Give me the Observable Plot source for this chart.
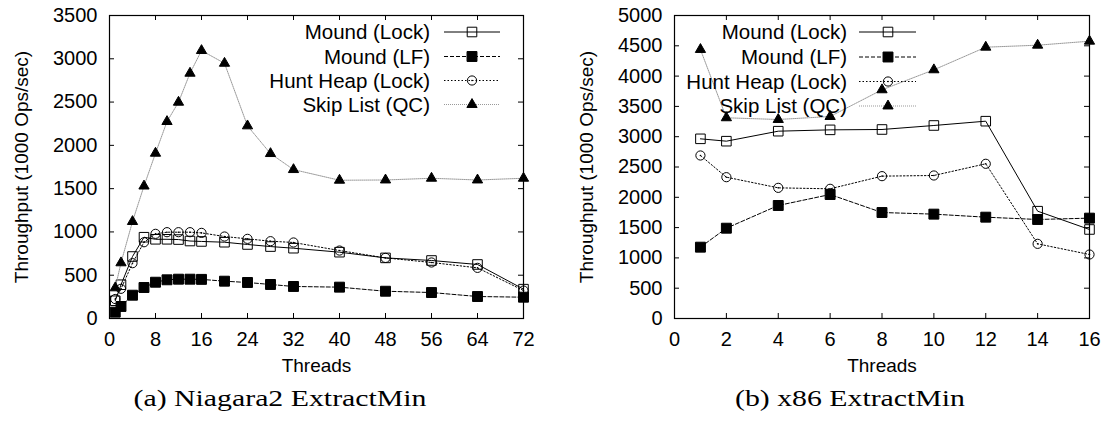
<!DOCTYPE html>
<html><head><meta charset="utf-8">
<script src="https://cdn.jsdelivr.net/npm/d3@7"></script>
<script src="https://cdn.jsdelivr.net/npm/@observablehq/plot@0.6"></script>
<style>
body{margin:0;background:#fff;}
#root{position:relative;width:1104px;height:428px;overflow:hidden;background:#fff;}
.chart{position:absolute;top:0;}
.overlay{position:absolute;left:0;top:0;pointer-events:none;}
</style></head><body><div id="root"></div>
<script>
// ---- data ----
const seriesNames = ["Mound (Lock)", "Mound (LF)", "Hunt Heap (Lock)", "Skip List (QC)"];

const niagaraThreads = [1, 2, 4, 6, 8, 10, 12, 14, 16, 20, 24, 28, 32, 40, 48, 56, 64, 72];
const niagaraMoundLock = [205, 390, 716, 939, 915, 915, 912, 895, 890, 881, 855, 831, 812, 766, 700, 670, 624, 339];
const niagaraMoundLF = [73, 139, 269, 358, 419, 447, 454, 454, 452, 431, 416, 393, 370, 362, 315, 300, 254, 246];
const niagaraHuntHeap = [225, 343, 639, 881, 978, 997, 997, 997, 989, 947, 920, 893, 878, 785, 700, 647, 585, 323];
const niagaraSkipList = [354, 643, 1120, 1530, 1909, 2275, 2498, 2833, 3095, 2948, 2225, 1905, 1720, 1597, 1600, 1620, 1600, 1620];
const niagaraXTicks = [0, 8, 16, 24, 32, 40, 48, 56, 64, 72];
const niagaraYTicks = [0, 500, 1000, 1500, 2000, 2500, 3000, 3500];

const x86Threads = [1, 2, 4, 6, 8, 10, 12, 14, 16];
const x86MoundLock = [2965, 2926, 3091, 3113, 3119, 3185, 3256, 1771, 1469];
const x86MoundLF = [1177, 1490, 1865, 2046, 1749, 1722, 1672, 1634, 1656];
const x86HuntHeap = [2690, 2332, 2156, 2140, 2349, 2360, 2553, 1232, 1056];
const x86SkipList = [4439, 3312, 3284, 3333, 3774, 4104, 4477, 4510, 4576];
const x86XTicks = [0, 2, 4, 6, 8, 10, 12, 14, 16];
const x86YTicks = [0, 500, 1000, 1500, 2000, 2500, 3000, 3500, 4000, 4500, 5000];

const xLabel = "Threads";
const yLabel = "Throughput (1000 Ops/sec)";
const captions = ["(a) Niagara2 ExtractMin", "(b) x86 ExtractMin"];

// ---- styles ----
const styles = [
  {stroke: "#000", dash: null, width: 1, symbol: "square", r: 5.4, fill: "none", dot: false},
  {stroke: "#000", dash: "4,2", width: 1, symbol: "square", r: 5.6, fill: "#000", dot: false},
  {stroke: "#000", dash: "1.5,2", width: 1, symbol: "circle", r: 4.6, fill: "none", dot: true},
  {stroke: "#999", dash: "1,1", width: 1, symbol: "triangle", r: 3.8, fill: "#000", dot: false}
];
const FONT = '"Liberation Sans", Arial, Helvetica, sans-serif';
const TICK_FS = 20;
const LABEL_FS = 19;
const H = 380, MT = 15, MB = 62, TICK = 5;

const root = document.getElementById("root");

function makeChart(cfg) {
  const plotW = cfg.width - cfg.marginLeft - cfg.marginRight;
  const plotH = H - MT - MB;
  const rows = [];
  cfg.series.forEach((vals, i) => vals.forEach((v, j) => rows.push({s: i, x: cfg.threads[j], y: v})));
  const marks = [];
  // inward ticks on all four sides
  marks.push(
    Plot.tickX(cfg.xTicks, {x: d => d, insetTop: plotH - TICK, stroke: "#000"}),
    Plot.tickX(cfg.xTicks, {x: d => d, insetBottom: plotH - TICK, stroke: "#000"}),
    Plot.tickY(cfg.yTicks, {y: d => d, insetRight: plotW - TICK, stroke: "#000"}),
    Plot.tickY(cfg.yTicks, {y: d => d, insetLeft: plotW - TICK, stroke: "#000"})
  );
  styles.forEach((st, i) => {
    const d = rows.filter(r => r.s === i);
    marks.push(Plot.line(d, {x: "x", y: "y", stroke: st.stroke, strokeWidth: st.width, strokeDasharray: st.dash}));
    marks.push(Plot.dot(d, {x: "x", y: "y", symbol: () => st.symbol, r: st.r, fill: st.fill, stroke: "#000", strokeWidth: 1}));
    if (st.dot) marks.push(Plot.dot(d, {x: "x", y: "y", r: 0.8, fill: "#000", stroke: null}));
  });
  marks.push(
    Plot.text(cfg.xTicks, {x: d => d, text: d => String(d), frameAnchor: "bottom", lineAnchor: "middle", dy: 21, fontSize: TICK_FS, fill: "#000"}),
    Plot.text(cfg.yTicks, {y: d => d, text: d => String(d), frameAnchor: "left", lineAnchor: "middle", dx: -12, textAnchor: "end", fontSize: TICK_FS, fill: "#000"}),
    Plot.text([xLabel], {frameAnchor: "bottom", lineAnchor: "middle", dy: 47, fontSize: LABEL_FS, fill: "#000"}),
    Plot.text([yLabel], {frameAnchor: "left", textAnchor: "middle", lineAnchor: "middle", dx: -88, rotate: -90, fontSize: LABEL_FS, fill: "#000"}),
    Plot.frame({stroke: "#000", strokeWidth: 1.2})
  );
  const svg = Plot.plot({
    width: cfg.width, height: H,
    marginLeft: cfg.marginLeft, marginRight: cfg.marginRight, marginTop: MT, marginBottom: MB,
    x: {domain: cfg.xDomain, type: "linear", axis: null},
    y: {domain: cfg.yDomain, type: "linear", axis: null},
    symbol: {type: "identity"},
    style: {fontFamily: FONT, fontSize: LABEL_FS + "px", color: "#000", background: "transparent", overflow: "visible"},
    marks
  });
  svg.classList.add("chart");
  svg.style.left = cfg.left + "px";
  root.appendChild(svg);
}

makeChart({
  left: 0, width: 552, marginLeft: 109, marginRight: 29,
  threads: niagaraThreads,
  series: [niagaraMoundLock, niagaraMoundLF, niagaraHuntHeap, niagaraSkipList],
  xDomain: [0, 72], yDomain: [0, 3500], xTicks: niagaraXTicks, yTicks: niagaraYTicks
});
makeChart({
  left: 552, width: 552, marginLeft: 122, marginRight: 15,
  threads: x86Threads,
  series: [x86MoundLock, x86MoundLF, x86HuntHeap, x86SkipList],
  xDomain: [0, 16], yDomain: [0, 5000], xTicks: x86XTicks, yTicks: x86YTicks
});

// ---- legends and captions overlay ----
const ov = d3.select(root).append("svg").attr("class", "overlay").attr("width", 1104).attr("height", 428);
const legends = [
  {textRight: 430, x1: 444, x2: 500, mx: 472, rows: [32, 56.5, 80.5, 104.5]},
  {textRight: 847, x1: 859, x2: 916, mx: 888, rows: [32, 57, 81.5, 106]}
];
legends.forEach(L => {
  seriesNames.forEach((name, i) => {
    const st = styles[i];
    const y = L.rows[i];
    ov.append("text").attr("x", L.textRight).attr("y", y).attr("dy", "0.36em")
      .attr("text-anchor", "end").attr("font-family", FONT).attr("font-size", 20.5).attr("fill", "#000").text(name);
    ov.append("line").attr("x1", L.x1).attr("x2", L.x2).attr("y1", y).attr("y2", y)
      .attr("stroke", st.stroke).attr("stroke-width", st.width).attr("stroke-dasharray", st.dash);
    const sym = {square: d3.symbolSquare, circle: d3.symbolCircle, triangle: d3.symbolTriangle}[st.symbol];
    ov.append("path").attr("d", d3.symbol(sym, Math.PI * st.r * st.r)())
      .attr("transform", `translate(${L.mx},${y})`)
      .attr("fill", st.fill).attr("stroke", "#000").attr("stroke-width", 1);
    if (st.dot) ov.append("circle").attr("cx", L.mx).attr("cy", y).attr("r", 0.8).attr("fill", "#000");
  });
});
const capPos = [{x: 280, w: 293}, {x: 850, w: 230}];
captions.forEach((c, i) => {
  ov.append("text").attr("x", capPos[i].x).attr("y", 406).attr("text-anchor", "middle")
    .attr("font-family", '"Liberation Serif", "DejaVu Serif", serif').attr("font-size", 24)
    .attr("textLength", capPos[i].w).attr("lengthAdjust", "spacingAndGlyphs").attr("fill", "#000").text(c);
});
</script>
</body></html>
